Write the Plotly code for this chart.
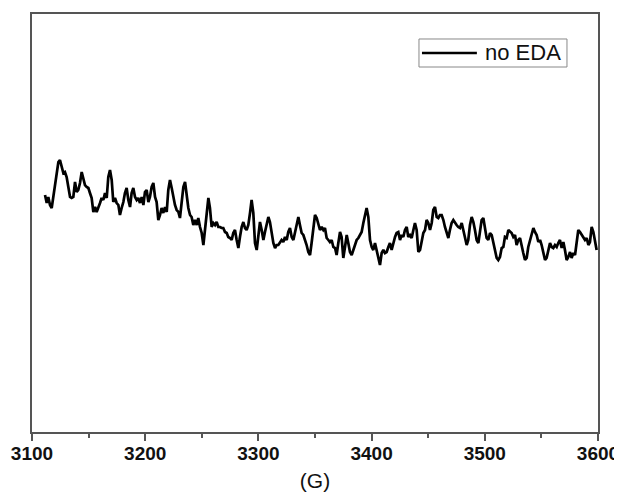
import plotly.graph_objects as go

# Magnetic field (G)
field_G = [
    3111.5, 3113.0, 3114.4, 3115.9, 3117.4, 3118.8, 3120.3, 3121.8, 3123.3, 3124.7,
    3126.2, 3127.7, 3129.1, 3130.6, 3132.1, 3133.6, 3135.0, 3136.5, 3138.0, 3139.5,
    3140.9, 3142.4, 3143.9, 3145.3, 3146.8, 3148.3, 3149.8, 3151.2, 3152.7, 3154.2,
    3155.7, 3157.1, 3158.6, 3160.1, 3161.5, 3163.0, 3164.5, 3166.0, 3167.4, 3168.9,
    3170.4, 3171.8, 3173.3, 3174.8, 3176.3, 3177.7, 3179.2, 3180.7, 3182.1, 3183.6,
    3185.1, 3186.6, 3188.0, 3189.5, 3191.0, 3192.5, 3193.9, 3195.4, 3196.9, 3198.4,
    3199.8, 3201.3, 3202.8, 3204.2, 3205.7, 3207.2, 3208.7, 3210.1, 3211.6, 3213.1,
    3214.5, 3216.0, 3217.5, 3219.0, 3220.4, 3221.9, 3223.4, 3224.8, 3226.3, 3227.8,
    3229.3, 3230.7, 3232.2, 3233.7, 3235.2, 3236.6, 3238.1, 3239.6, 3241.0, 3242.5,
    3244.0, 3245.5, 3246.9, 3248.4, 3249.9, 3251.4, 3252.8, 3254.3, 3255.8, 3257.2,
    3258.7, 3260.2, 3261.7, 3263.1, 3264.6, 3266.1, 3267.5, 3269.0, 3270.5, 3272.0,
    3273.4, 3274.9, 3276.4, 3277.8, 3279.3, 3280.8, 3282.3, 3283.7, 3285.2, 3286.7,
    3288.2, 3289.6, 3291.1, 3292.6, 3294.0, 3295.5, 3297.0, 3298.5, 3299.9, 3301.4,
    3302.9, 3304.4, 3305.8, 3307.3, 3308.8, 3310.2, 3311.7, 3313.2, 3314.7, 3316.1,
    3317.6, 3319.1, 3320.5, 3322.0, 3323.5, 3325.0, 3326.4, 3327.9, 3329.4, 3330.9,
    3332.3, 3333.8, 3335.3, 3336.7, 3338.2, 3339.7, 3341.2, 3342.6, 3344.1, 3345.6,
    3347.0, 3348.5, 3350.0, 3351.5, 3352.9, 3354.4, 3355.9, 3357.4, 3358.8, 3360.3,
    3361.8, 3363.2, 3364.7, 3366.2, 3367.7, 3369.1, 3370.6, 3372.1, 3373.5, 3375.0,
    3376.5, 3378.0, 3379.4, 3380.9, 3382.4, 3383.9, 3385.3, 3386.8, 3388.3, 3389.7,
    3391.2, 3392.7, 3394.2, 3395.6, 3397.1, 3398.6, 3400.1, 3401.5, 3403.0, 3404.5,
    3405.9, 3407.4, 3408.9, 3410.4, 3411.8, 3413.3, 3414.8, 3416.2, 3417.7, 3419.2,
    3420.7, 3422.1, 3423.6, 3425.1, 3426.5, 3428.0, 3429.5, 3431.0, 3432.4, 3433.9,
    3435.4, 3436.9, 3438.3, 3439.8, 3441.3, 3442.8, 3444.2, 3445.7, 3447.2, 3448.6,
    3450.1, 3451.6, 3453.1, 3454.5, 3456.0, 3457.5, 3458.9, 3460.4, 3461.9, 3463.4,
    3464.8, 3466.3, 3467.8, 3469.2, 3470.7, 3472.2, 3473.7, 3475.1, 3476.6, 3478.1,
    3479.6, 3481.0, 3482.5, 3484.0, 3485.4, 3486.9, 3488.4, 3489.9, 3491.3, 3492.8,
    3494.3, 3495.8, 3497.2, 3498.7, 3500.2, 3501.6, 3503.1, 3504.6, 3506.1, 3507.5,
    3509.0, 3510.5, 3511.9, 3513.4, 3514.9, 3516.4, 3517.8, 3519.3, 3520.8, 3522.3,
    3523.7, 3525.2, 3526.7, 3528.1, 3529.6, 3531.1, 3532.6, 3534.0, 3535.5, 3537.0,
    3538.4, 3539.9, 3541.4, 3542.9, 3544.3, 3545.8, 3547.3, 3548.8, 3550.2, 3551.7,
    3553.2, 3554.6, 3556.1, 3557.6, 3559.1, 3560.5, 3562.0, 3563.5, 3564.9, 3566.4,
    3567.9, 3569.4, 3570.8, 3572.3, 3573.8, 3575.3, 3576.7, 3578.2, 3579.7, 3581.1,
    3582.6, 3584.1, 3585.6, 3587.0, 3588.5, 3590.0, 3591.5, 3592.9, 3594.4, 3595.9,
    3597.3, 3598.8,
]

# EPR intensity (arbitrary units), series "no EDA"
intensity_no_eda = [
    237, 229, 235, 227, 224, 235, 249, 262, 270, 272,
    264, 259, 260, 255, 245, 235, 234, 235, 250, 240,
    242, 249, 260, 252, 247, 245, 244, 239, 234, 220,
    225, 220, 224, 229, 234, 232, 239, 234, 255, 262,
    252, 230, 234, 229, 227, 217, 224, 230, 239, 244,
    232, 225, 239, 244, 235, 232, 234, 229, 235, 227,
    240, 242, 230, 235, 245, 249, 235, 230, 212, 217,
    224, 219, 225, 220, 242, 252, 244, 235, 227, 222,
    220, 214, 232, 245, 250, 235, 224, 217, 215, 207,
    212, 207, 214, 205, 199, 187, 202, 215, 234, 224,
    205, 209, 207, 210, 205, 205, 204, 204, 200, 199,
    195, 194, 192, 199, 202, 192, 184, 195, 205, 210,
    204, 202, 207, 219, 232, 219, 189, 182, 195, 210,
    202, 192, 200, 209, 215, 210, 199, 189, 184, 187,
    187, 189, 192, 190, 195, 192, 200, 204, 195, 192,
    199, 209, 215, 207, 199, 197, 192, 187, 180,
    177, 189, 205, 217, 214, 207, 202, 205, 202, 204,
    194, 192, 190, 192, 185, 184, 177, 189, 200, 195,
    174, 185, 197, 189, 180, 177, 182, 189, 192, 194,
    197, 200, 209, 219, 224, 215, 192, 185, 182, 189,
    182, 175, 167, 179, 182, 179, 180, 185, 189, 182,
    190, 195, 199, 200, 192, 197, 195, 202, 205, 195,
    197, 194, 202, 209, 202, 180, 182, 189, 199, 202,
    212, 209, 202, 209, 222, 225, 215, 214, 217, 217,
    212, 205, 200, 194, 202, 209, 212, 209, 207, 205,
    204, 209, 202, 195, 187, 192, 207, 215, 210, 202,
    192, 189, 199, 212, 214, 205, 194, 192, 199, 197,
    189, 184, 174, 172, 175, 184, 185, 195, 194, 202,
    200, 199, 195, 197, 187, 192, 194, 185, 179, 172,
    174, 185, 192, 199, 204, 200, 197, 190, 192, 187,
    179, 172, 174, 182, 189, 185, 184, 187, 185, 189,
    192, 184, 190, 182, 172, 175, 180, 174, 179, 177,
    190, 202, 200, 197, 194, 192, 194, 187, 190, 205,
    200, 190, 182,
]

assert len(field_G) == len(intensity_no_eda), (len(field_G), len(intensity_no_eda))

x_ticks = [3100, 3200, 3300, 3400, 3500, 3600]
series_name = "no EDA"

fig = go.Figure()
fig.add_trace(go.Scatter(
    x=field_G, y=intensity_no_eda, mode="lines", name=series_name,
    line=dict(color="black", width=2.7), showlegend=False,
))

frame_color = "#555555"

# manual legend (box, line sample, label)
fig.add_shape(type="rect", xref="paper", yref="paper",
              x0=0.6837, x1=0.9452, y0=0.8732, y1=0.9402,
              line=dict(color="#888888", width=1), fillcolor="white")
fig.add_shape(type="line", xref="paper", yref="paper",
              x0=0.689, x1=0.786, y0=0.9067, y1=0.9067,
              line=dict(color="black", width=2.5))
fig.add_annotation(xref="paper", yref="paper", x=0.7968, y=0.9067,
                   text=series_name, showarrow=False, xanchor="left", yanchor="middle",
                   font=dict(family="Liberation Sans, Arial", size=22, color="#111111"))

# the page body has an 8px default margin, so the figure is offset by 8px
fig.update_layout(
    width=614, height=489,
    margin=dict(l=24, r=24, t=6, b=65),
    paper_bgcolor="white", plot_bgcolor="white",
    font=dict(family="Liberation Sans, Arial", color="#111111"),
    xaxis=dict(
        range=[3100, 3600], tickvals=x_ticks, ticktext=[f"<b>{t}</b>" for t in x_ticks],
        ticks="outside", ticklen=7, tickwidth=1.5, tickcolor=frame_color,
        minor=dict(ticks="outside", ticklen=4, tickwidth=1.5, dtick=50, tickcolor=frame_color),
        showline=True, linecolor=frame_color, linewidth=1.5, mirror=True,
        showgrid=False, zeroline=False, automargin=False,
        tickfont=dict(size=19, color="#111111"), ticklabelstandoff=-4,
        title=dict(text="(G)", font=dict(size=21, color="#111111"), standoff=11),
    ),
    yaxis=dict(
        range=[0, 418], showticklabels=False, ticks="",
        showline=True, linecolor=frame_color, linewidth=1.5, mirror=True,
        showgrid=False, zeroline=False, automargin=False,
    ),
)

fig.write_html("out.html")
